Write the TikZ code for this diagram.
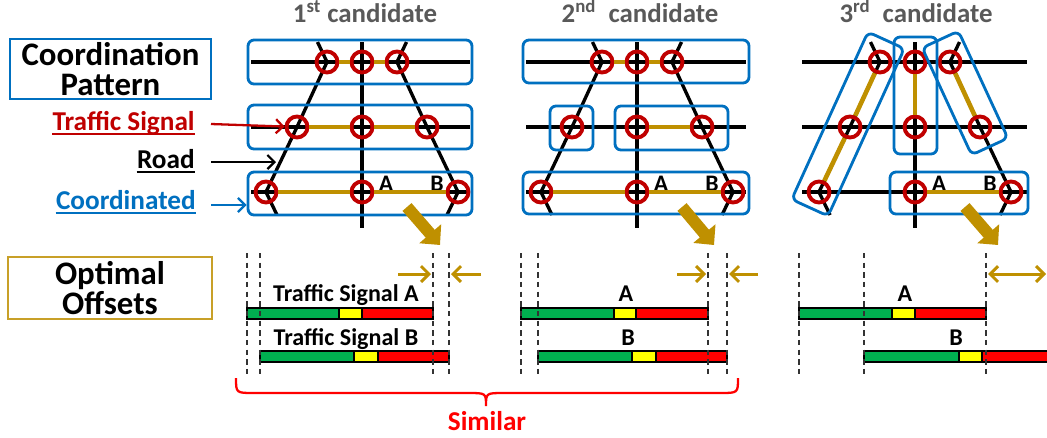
\documentclass[tikz,border=0pt]{standalone}
\usepackage{fontspec}
\setmainfont{Carlito}
\usetikzlibrary{arrows.meta,calc}

\definecolor{boxblue}{RGB}{0,112,192}
\definecolor{sigred}{RGB}{192,0,0}
\definecolor{gold}{RGB}{191,144,0}
\definecolor{framegold}{RGB}{200,160,40}
\definecolor{titlegray}{RGB}{89,89,89}
\definecolor{bargreen}{RGB}{0,176,80}
\definecolor{baryellow}{RGB}{255,255,0}
\definecolor{barred}{RGB}{255,0,0}
\definecolor{brightred}{RGB}{255,0,0}

\newcommand\fontHead{\fontsize{18.7pt}{17pt}\selectfont\bfseries}
\newcommand\fontTitle{\fontsize{15.3pt}{18pt}\selectfont\bfseries}
\newcommand\fontLbl{\fontsize{15.5pt}{18pt}\selectfont\bfseries}
\newcommand\fontSig{\fontsize{13.7pt}{16pt}\selectfont\bfseries}
\newcommand\fontAB{\fontsize{13.5pt}{16pt}\selectfont\bfseries}

\tikzset{
  road/.style={line width=1.9pt, black, line join=round},
  coordline/.style={line width=2.6pt, gold},
  signal/.style={circle, draw=sigred, line width=2.2pt, minimum size=0.42cm, inner sep=0pt},
  group/.style={draw=boxblue, line width=1.6pt, rounded corners=0.12cm, inner sep=0pt},
  legendbox/.style={line width=1pt, align=center, font=\fontHead, inner sep=0pt},
  pointer/.style={line width=1.3pt, -{Straight Barb[length=4pt,width=8pt]}},
  shiftarrow/.style={gold, line width=1.7pt, -{Straight Barb[length=4.5pt,width=9pt]}},
  bigarrow/.style={gold, line width=6.8pt, -{Triangle[length=8.5pt,width=16pt]}},
  barline/.style={draw=black, line width=1.1pt},
  guide/.style={black!80, line width=0.8pt, dash pattern=on 3pt off 2.5pt},
  title/.style={font=\fontTitle, text=titlegray, anchor=base, inner sep=0pt},
  ablabel/.style={font=\fontAB, anchor=base, inner sep=0pt},
}

% road network of one candidate: #1 name prefix, #2 centre x,
% #3 / #4 left and right ends of the horizontal roads
\newcommand\roadnet[4]{%
  \draw[road] (#3,62) -- (#4,62);
  \draw[road] (#3,127) -- (#4,127);
  \draw[road] (#3,192) -- (#4,192);
  \draw[road] (#2,42) -- (#2,228);
  \draw[road] (#2-44.5,42) -- (#2-35,62) -- (#2-65,127) -- (#2-96,192) -- (#2-85,215);
  \draw[road] (#2+44.5,42) -- (#2+35,62) -- (#2+65,127) -- (#2+96,192) -- (#2+85,215);
  \node[signal] (#1tl) at (#2-35,62) {};
  \node[signal] (#1tc) at (#2,62) {};
  \node[signal] (#1tr) at (#2+35,62) {};
  \node[signal] (#1ml) at (#2-65,127) {};
  \node[signal] (#1mc) at (#2,127) {};
  \node[signal] (#1mr) at (#2+65,127) {};
  \node[signal] (#1bl) at (#2-96,192) {};
  \node[signal] (#1bc) at (#2,192) {};
  \node[signal] (#1br) at (#2+96,192) {};
  \node[ablabel] (#1A) at (#2+24,191) {A};
  \node[ablabel] (#1B) at (#2+75,191) {B};
}

% split of one signal cycle: #1 top y, #2 start, #3 end of green,
% #4 end of yellow, #5 end of red
\newcommand\sigbar[5]{%
  \draw[barline, fill=bargreen] (#2,#1) rectangle (#3,#1+11);
  \draw[barline, fill=baryellow] (#3,#1) rectangle (#4,#1+11);
  \draw[barline, fill=barred] (#4,#1) rectangle (#5,#1+11);
}

\begin{document}
\begin{tikzpicture}[x=0.02cm, y=-0.02cm]
\useasboundingbox (0,0) rectangle (1047,437);
\clip (0,0) rectangle (1047,437);
\fill[white] (0,0) rectangle (1047,437);

% ---------- legend on the left ----------
\node[legendbox, draw=boxblue, minimum width=4.02cm, minimum height=1.2cm] (cp) at (110.5,69) {Coordination\\Pattern};
\node[legendbox, draw=framegold, minimum width=4.08cm, minimum height=1.24cm] (oo) at (110,288) {Optimal\\Offsets};

\node[font=\fontLbl, text=sigred, anchor=base east, inner sep=0pt] (lsig) at (195,130) {Traffic Signal};
\draw[sigred, line width=0.8pt] ([yshift=-2.3pt]lsig.base west) -- ([yshift=-2.3pt]lsig.base east);
\node[font=\fontLbl, text=black, anchor=base east, inner sep=0pt] (lroad) at (195,168) {Road};
\draw[black, line width=0.8pt] ([yshift=-2.3pt]lroad.base west) -- ([yshift=-2.3pt]lroad.base east);
\node[font=\fontLbl, text=boxblue, anchor=base east, inner sep=0pt] (lco) at (196,209) {Coordinated};
\draw[boxblue, line width=0.8pt] ([yshift=-2.3pt]lco.base west) -- ([yshift=-2.3pt]lco.base east);

% ---------- titles ----------
\node[title] (t1) at (365,22) {1\textsuperscript{st} candidate};
\node[title] (t2) at (640,22) {2\textsuperscript{nd}~ candidate};
\node[title] (t3) at (916,22) {3\textsuperscript{rd}~ candidate};

% ---------- 1st candidate ----------
\roadnet{a}{362}{251}{470}
\draw[coordline] (atl) -- (atc);
\draw[coordline] (atc) -- (atr);
\draw[coordline] (aml) -- (amc);
\draw[coordline] (amc) -- (amr);
\draw[coordline] (abl) -- (abc);
\draw[coordline] (abc) -- (abr);
\node[group, minimum width=4.48cm, minimum height=0.88cm] (atop) at (360,62) {};
\node[group, minimum width=4.48cm, minimum height=0.88cm] (amid) at (360,127) {};
\node[group, minimum width=4.48cm, minimum height=0.86cm] (abot) at (360,193.5) {};

% ---------- 2nd candidate ----------
\roadnet{b}{637}{526}{746}
\draw[coordline] (btl) -- (btc);
\draw[coordline] (btc) -- (btr);
\draw[coordline] (bmc) -- (bmr);
\draw[coordline] (bbl) -- (bbc);
\draw[coordline] (bbc) -- (bbr);
\node[group, minimum width=4.52cm, minimum height=0.86cm] (btop) at (636,61.5) {};
\node[group, minimum width=0.86cm, minimum height=0.88cm] (bmidl) at (571.5,128) {};
\node[group, minimum width=2.26cm, minimum height=0.88cm] (bmidr) at (671.5,128) {};
\node[group, minimum width=4.52cm, minimum height=0.84cm] (bbot) at (636,193) {};

% ---------- 3rd candidate ----------
\roadnet{c}{915}{802}{1027}
\draw[coordline] (ctl) -- (cml);
\draw[coordline] (cml) -- (cbl);
\draw[coordline] (ctc) -- (cmc);
\draw[coordline] (ctr) -- (cmr);
\draw[coordline] (cbc) -- (cbr);
\node[group, minimum width=3.68cm, minimum height=0.8cm, rotate=65.5] (cleft) at (848,124) {};
\node[group, minimum width=0.86cm, minimum height=2.34cm] (cmidv) at (915.5,95.5) {};
\node[group, minimum width=2.36cm, minimum height=0.8cm, rotate=-65.2] (cright) at (965,93) {};
\node[group, minimum width=2.76cm, minimum height=0.84cm] (cbot) at (959,193) {};

% ---------- legend pointers ----------
\coordinate (psig) at (211,124);
\draw[pointer, sigred] (psig) -- (aml);
\coordinate (proad) at (211,162);
\coordinate (proadend) at (276,162);
\draw[pointer, black] (proad) -- (proadend);
\coordinate (pco) at (211,205);
\draw[pointer, boxblue] (pco) -- (pco -| abot.west);

% ---------- arrows down to the offsets ----------
\coordinate (ga0) at (407,207); \coordinate (ga1) at (440,245);
\coordinate (gb0) at (682,207); \coordinate (gb1) at (714,245);
\coordinate (gc0) at (965,207); \coordinate (gc1) at (998,245);
\draw[bigarrow] (ga0) -- (ga1);
\draw[bigarrow] (gb0) -- (gb1);
\draw[bigarrow] (gc0) -- (gc1);

% ---------- signal timings ----------
\node[font=\fontSig, anchor=base, inner sep=0pt] (sa1) at (346,301) {Traffic Signal A};
\node[font=\fontSig, anchor=base, inner sep=0pt] (sb1) at (346,345) {Traffic Signal B};
\sigbar{308}{247}{339}{362}{433}
\sigbar{351}{260}{354}{378}{449}

\node[font=\fontSig, anchor=base, inner sep=0pt] (sa2) at (626,301) {A};
\node[font=\fontSig, anchor=base, inner sep=0pt] (sb2) at (628,345) {B};
\sigbar{308}{521}{614}{636}{708}
\sigbar{351}{538}{632}{656}{727}

\node[font=\fontSig, anchor=base, inner sep=0pt] (sa3) at (905,301) {A};
\node[font=\fontSig, anchor=base, inner sep=0pt] (sb3) at (956,345) {B};
\sigbar{308}{799}{892}{915}{986}
\sigbar{351}{864}{959}{982}{1060}

% guide lines
\foreach \gx in {247,260,433,449,521,538,708,727,799,864,986}
  \draw[guide] (\gx,253) -- (\gx,377);

% offset differences
\coordinate (d1a) at (398,274); \coordinate (d1b) at (431,274);
\coordinate (d1c) at (481,274); \coordinate (d1d) at (451,274);
\draw[shiftarrow] (d1a) -- (d1b);
\draw[shiftarrow] (d1c) -- (d1d);
\coordinate (d2a) at (677,274); \coordinate (d2b) at (706,274);
\coordinate (d2c) at (758,274); \coordinate (d2d) at (729,274);
\draw[shiftarrow] (d2a) -- (d2b);
\draw[shiftarrow] (d2c) -- (d2d);
\coordinate (d3a) at (988,274); \coordinate (d3b) at (1046,274);
\draw[shiftarrow, {Straight Barb[length=4.5pt,width=9pt]}-{Straight Barb[length=4.5pt,width=9pt]}] (d3a) -- (d3b);

% ---------- brace ----------
\draw[brightred, line width=1.3pt] (236,378) .. controls (236,393) .. (254,393) -- (468,393)
  .. controls (486,393) .. (486,406) .. controls (486,393) .. (504,393) -- (720,393)
  .. controls (738,393) .. (738,378);
\node[font=\fontLbl, text=brightred, anchor=base, inner sep=0pt] (sim) at (487,430) {Similar};
\end{tikzpicture}
\end{document}
